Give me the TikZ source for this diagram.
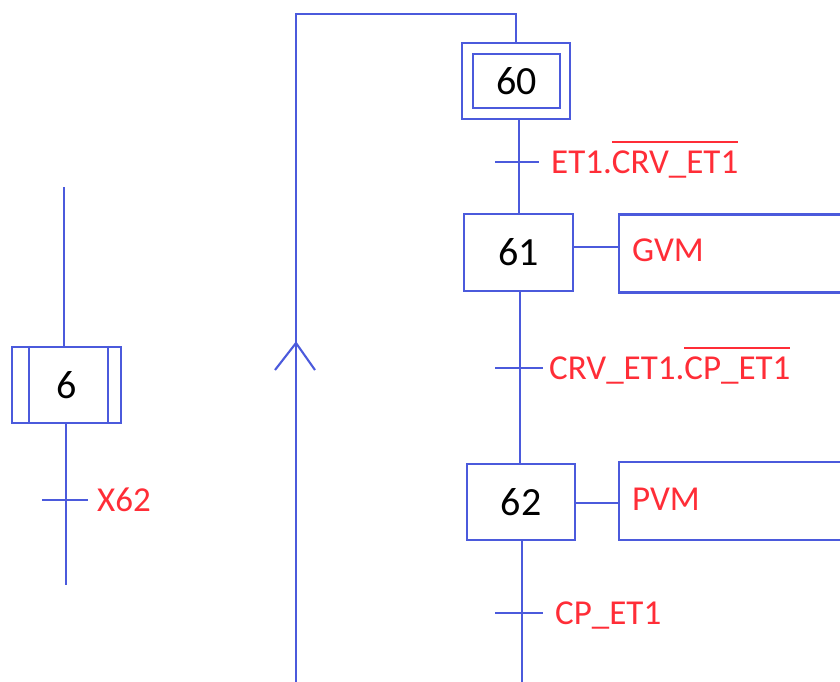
\documentclass[tikz,border=0pt]{standalone}
\usepackage{fontspec}
\setmainfont{Carlito}
\definecolor{grafblue}{RGB}{75,90,220}
\definecolor{grafred}{RGB}{255,45,55}
\newcommand{\myovl}[1]{\vbox{\hrule height 1.8pt\kern 7.5pt\hbox{#1}}}
\tikzset{
  x=1pt, y=-1pt,
  link/.style={draw=grafblue, line width=2.1pt},
  stepbox/.style={draw=grafblue, line width=2.1pt, minimum width=108pt, minimum height=76pt, inner sep=0pt, font=\fontsize{40}{42}\selectfont, text=black},
  actbox/.style={draw=grafblue, line width=2.1pt, anchor=west, minimum width=240pt, minimum height=78pt, inner xsep=13pt, inner ysep=0pt, text width=214pt, align=left, font=\fontsize{35}{38}\selectfont, text=grafred},
  cond/.style={anchor=base west, inner sep=0pt, font=\fontsize{35}{38}\selectfont, text=grafred},
}
\begin{document}
\begin{tikzpicture}
\useasboundingbox (0,0) rectangle (840,682);
% steps
\node[stepbox] (s60) at (516,81) {};
\node[stepbox, minimum width=87pt, minimum height=54pt] (s60i) at (516.5,81) {60};
\node[stepbox, minimum width=109pt, minimum height=77pt] (s61) at (518.5,252.5) {61};
\node[stepbox] (s62) at (521,502) {62};
\node[stepbox, minimum width=109pt] (s6) at (66.5,385) {6};
\draw[link] ([xshift=18pt]s6.north west) -- ([xshift=18pt]s6.south west);
\draw[link] ([xshift=-14pt]s6.north east) -- ([xshift=-14pt]s6.south east);
% actions
\node[actbox] (a61) at (618,253.5) {\raisebox{6pt}{GVM}};
\node[actbox] (a62) at (618,501) {\raisebox{3pt}{PVM}};
\draw[link] (s61.east |- 0,247) -- (a61.west |- 0,247);
\draw[link] (s62.east |- 0,503) -- (a62.west |- 0,503);
% transitions
\coordinate (t1) at (519,162);
\coordinate (t2) at (520,368);
\coordinate (t3) at (522,613);
\coordinate (t0) at (65,500);
\coordinate (bot3) at (522,690);
\coordinate (top6) at (64,187);
\coordinate (bot6) at (66,585);
\draw[link] (t1 |- s60.south) -- (t1 |- s61.north);
\draw[link] (t2 |- s61.south) -- (t2 |- s62.north);
\draw[link] (t3 |- s62.south) -- (bot3);
\draw[link] (top6) -- (top6 |- s6.north);
\draw[link] (bot6 |- s6.south) -- (bot6);
\draw[link] ([xshift=-24pt]t1) -- ([xshift=20pt]t1);
\draw[link] ([xshift=-25pt]t2) -- ([xshift=23pt]t2);
\draw[link] ([xshift=-27pt]t3) -- ([xshift=21pt]t3);
\draw[link] ([xshift=-23pt]t0) -- ([xshift=23pt]t0);
\node[cond] (c1) at ([xshift=32pt,yshift=-11pt]t1) {ET1.\myovl{CRV\_ET1}};
\node[cond] (c2) at ([xshift=29pt,yshift=-11pt]t2) {CRV\_ET1.\myovl{CP\_ET1}};
\node[cond] (c3) at ([xshift=33pt,yshift=-11pt]t3) {CP\_ET1};
\node[cond] (c0) at ([xshift=32pt,yshift=-11pt]t0) {X62};
% loop back
\coordinate (lt) at (516,14);
\coordinate (ll) at (296,14);
\coordinate (lb) at (296,690);
\coordinate (ah) at (296,343);
\coordinate (al) at (275,370);
\coordinate (ar) at (315,370);
\draw[link] (s60.north) -- (lt) -- (ll) -- (lb);
\draw[link] (al) -- (ah) -- (ar);
\end{tikzpicture}
\end{document}
